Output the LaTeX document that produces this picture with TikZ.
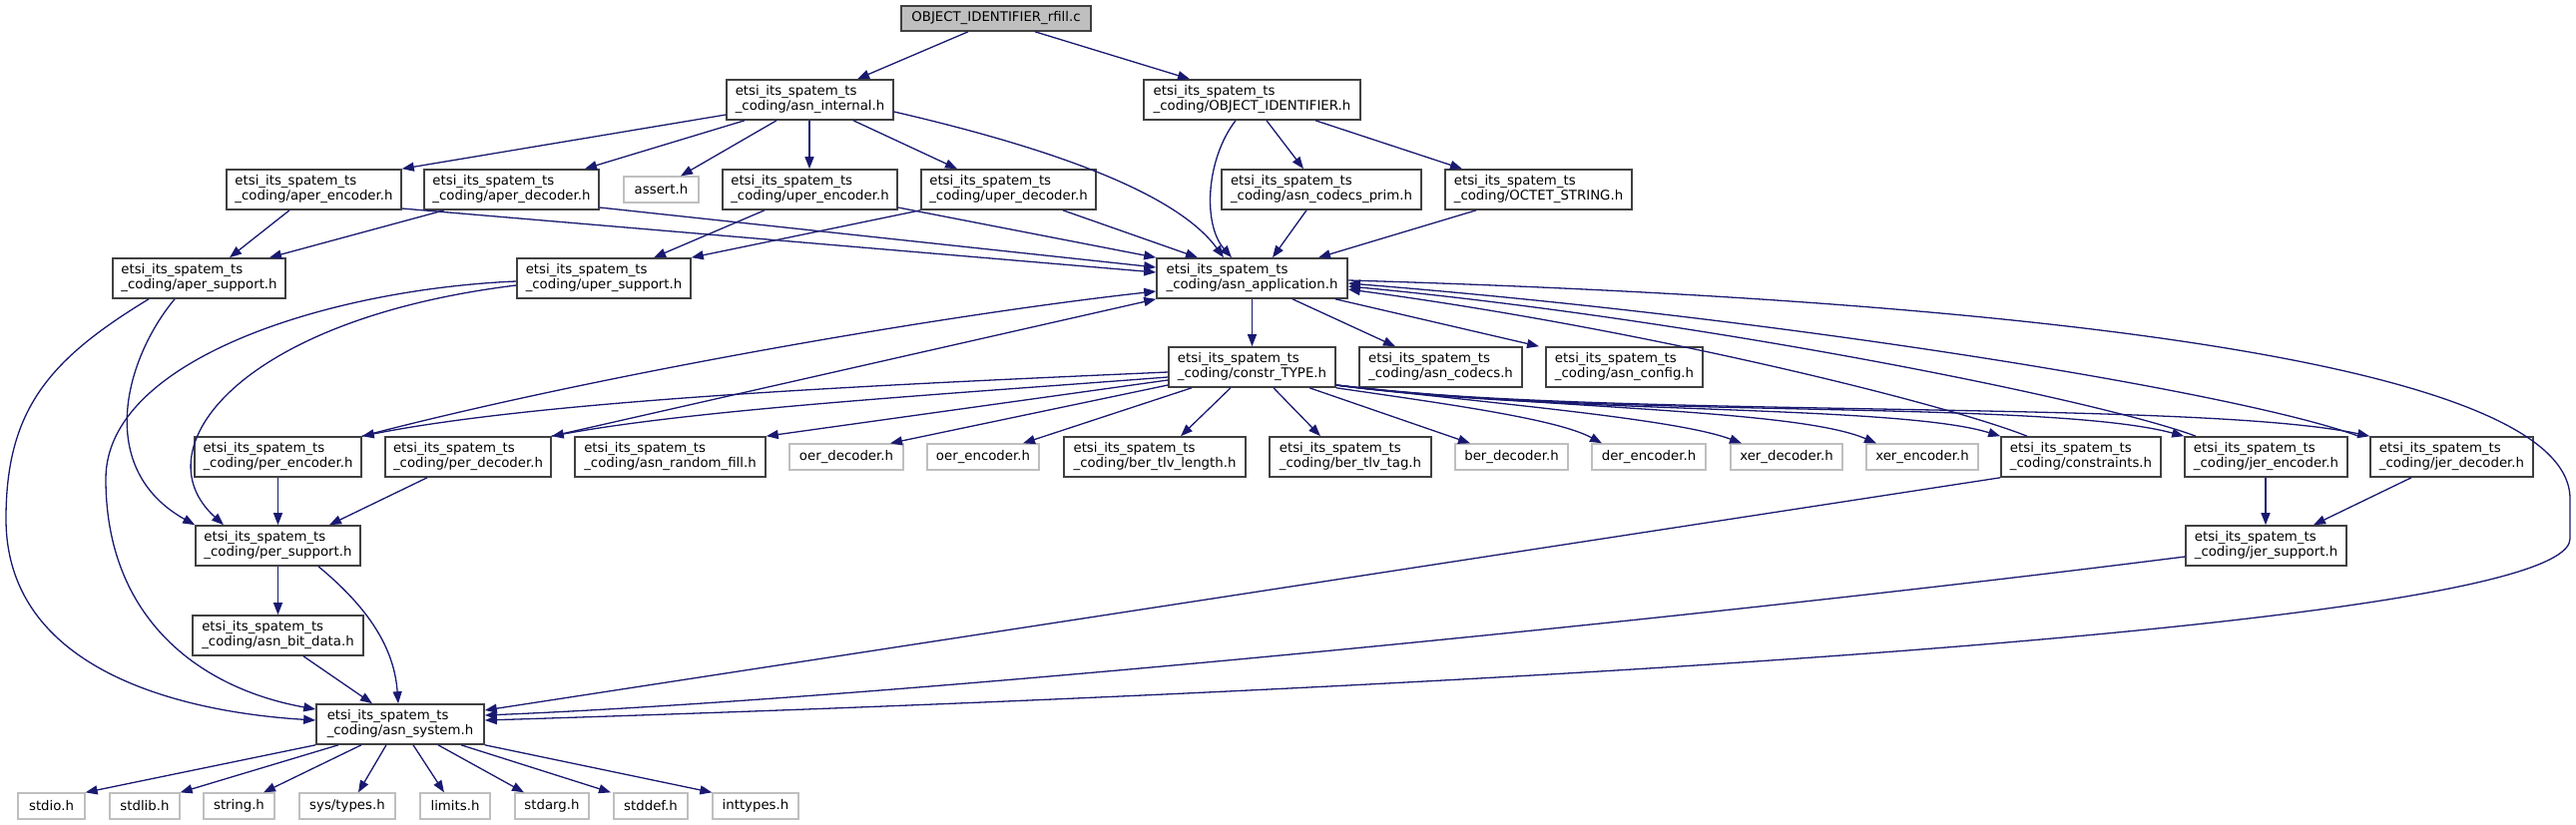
\documentclass[tikz,border=0pt]{standalone}
\usepackage{fontspec}
\setmainfont{DejaVu Sans}
\usetikzlibrary{arrows.meta}
\definecolor{edgeblue}{HTML}{191970}
\definecolor{boxline}{HTML}{404040}
\definecolor{greyline}{HTML}{BFBFBF}
\definecolor{rootfill}{HTML}{BFBFBF}
\newcommand\etsi[1]{etsi\_its\_spatem\_ts\\\_coding/#1}
\begin{document}
\begin{tikzpicture}[x=1pt,y=-1pt,
  hdr/.style={draw=boxline,fill=white,line width=1.6pt,inner sep=0pt,align=left,font=\fontsize{13.3}{15}\selectfont},
  wbox/.style={hdr,minimum width=#1,minimum height=40pt},
  gbox/.style={hdr,draw=greyline,line width=1.3pt,minimum width=#1,minimum height=26pt},
  dep/.style={draw=edgeblue,line width=1.3pt,-{Triangle[length=12pt,width=9pt]}}]
\useasboundingbox (0,0) rectangle (2581,827);
% nodes
\node[hdr,fill=rootfill,minimum width=190pt,minimum height=25pt] (root) at (998,18.5) {OBJECT\_IDENTIFIER\_rfill.c};
\node[wbox=167pt] (asninternal) at (811.5,100) {\etsi{asn\_internal.h}};
\node[wbox=217pt] (objid) at (1254.5,100) {\etsi{OBJECT\_IDENTIFIER.h}};
\node[wbox=175pt] (aperenc) at (314.5,190) {\etsi{aper\_encoder.h}};
\node[wbox=175pt] (aperdec) at (512.5,190) {\etsi{aper\_decoder.h}};
\node[gbox=75pt] (assert) at (662.5,190) {assert.h};
\node[wbox=175pt] (uperenc) at (811.5,190) {\etsi{uper\_encoder.h}};
\node[wbox=175pt] (uperdec) at (1010.5,190) {\etsi{uper\_decoder.h}};
\node[wbox=200pt] (codecsprim) at (1324,190) {\etsi{asn\_codecs\_prim.h}};
\node[wbox=187pt] (octet) at (1541.5,190) {\etsi{OCTET\_STRING.h}};
\node[wbox=173pt] (apersup) at (199.5,279) {\etsi{aper\_support.h}};
\node[wbox=174pt] (upersup) at (605,279) {\etsi{uper\_support.h}};
\node[wbox=191pt] (asnapp) at (1254.5,279) {\etsi{asn\_application.h}};
\node[wbox=167pt] (constr) at (1254.5,368) {\etsi{constr\_TYPE.h}};
\node[wbox=163pt] (codecs) at (1443.5,368) {\etsi{asn\_codecs.h}};
\node[wbox=157pt] (config) at (1627.5,368) {\etsi{asn\_config.h}};
\node[wbox=167pt] (perenc) at (278.5,458) {\etsi{per\_encoder.h}};
\node[wbox=166pt] (perdec) at (469,458) {\etsi{per\_decoder.h}};
\node[wbox=191pt] (randfill) at (671.5,458) {\etsi{asn\_random\_fill.h}};
\node[gbox=114pt] (oerdec) at (848,458) {oer\_decoder.h};
\node[gbox=112pt] (oerenc) at (985,458) {oer\_encoder.h};
\node[wbox=182pt] (tlvlen) at (1157,458) {\etsi{ber\_tlv\_length.h}};
\node[wbox=162pt] (tlvtag) at (1353,458) {\etsi{ber\_tlv\_tag.h}};
\node[gbox=113pt] (berdec) at (1514.5,458) {ber\_decoder.h};
\node[gbox=114pt] (derenc) at (1652,458) {der\_encoder.h};
\node[gbox=112pt] (xerdec) at (1790,458) {xer\_decoder.h};
\node[gbox=112pt] (xerenc) at (1926,458) {xer\_encoder.h};
\node[wbox=160pt] (constraints) at (2085,458) {\etsi{constraints.h}};
\node[wbox=163pt] (jerenc) at (2270.5,458) {\etsi{jer\_encoder.h}};
\node[wbox=163pt] (jerdec) at (2456.5,458) {\etsi{jer\_decoder.h}};
\node[wbox=165pt] (persup) at (278.5,547) {\etsi{per\_support.h}};
\node[wbox=161pt] (jersup) at (2270.5,547) {\etsi{jer\_support.h}};
\node[wbox=171pt] (bitdata) at (278.5,637) {\etsi{asn\_bit\_data.h}};
\node[wbox=168pt] (asnsys) at (401,726) {\etsi{asn\_system.h}};
\node[gbox=67pt] (stdio) at (51.5,808) {stdio.h};
\node[gbox=70pt] (stdlib) at (145,808) {stdlib.h};
\node[gbox=71pt] (string) at (239.5,808) {string.h};
\node[gbox=96pt] (systypes) at (348,808) {sys/types.h};
\node[gbox=70pt] (limits) at (456,808) {limits.h};
\node[gbox=74pt] (stdarg) at (553,808) {stdarg.h};
\node[gbox=74pt] (stddef) at (652,808) {stddef.h};
\node[gbox=86pt] (inttypes) at (757,808) {inttypes.h};
% edges
\draw[dep] (root.south -| 970,0) -- (asninternal.north -| 859,0);
\draw[dep] (root.south -| 1037,0) -- (objid.north -| 1192,0);
\draw[dep] (asninternal.west |- 0,115) -- (aperenc.north east);
\draw[dep] (asninternal.south -| 746,0) -- (aperdec.north -| 586,0);
\draw[dep] (asninternal.south -| 778,0) -- (assert.north -| 682,0);
\draw[dep] (asninternal.south -| 811,0) -- (uperenc.north -| 811,0);
\draw[dep] (asninternal.south -| 855,0) -- (uperdec.north -| 959,0);
\draw[dep] (asninternal.east |- 0,112) .. controls (1060,150) and (1180,195) .. (asnapp.north -| 1226,0);
\draw[dep] (objid.south -| 1238,0) .. controls (1208,160) and (1205,225) .. (asnapp.north -| 1234,0);
\draw[dep] (objid.south -| 1269,0) -- (codecsprim.north -| 1306,0);
\draw[dep] (objid.south -| 1318,0) -- (octet.north -| 1465,0);
\draw[dep] (aperenc.south -| 290,0) -- (apersup.north -| 230,0);
\draw[dep] (aperdec.south -| 445,0) -- (apersup.north -| 270,0);
\draw[dep] (aperenc.east |- 0,209) -- (asnapp.west |- 0,273);
\draw[dep] (aperdec.east |- 0,208) -- (asnapp.west |- 0,268);
\draw[dep] (uperenc.south -| 766,0) -- (upersup.north -| 655,0);
\draw[dep] (uperenc.east |- 0,208) -- (asnapp.north west);
\draw[dep] (uperdec.south west) -- (upersup.north east);
\draw[dep] (uperdec.south -| 1065,0) -- (asnapp.north -| 1200,0);
\draw[dep] (codecsprim.south -| 1309,0) -- (asnapp.north -| 1275,0);
\draw[dep] (octet.south -| 1479,0) -- (asnapp.north -| 1321,0);
\draw[dep] (apersup.south -| 149,0) .. controls (50,360) and (6,410) .. (6,520) .. controls (6,680) and (200,715) .. (asnsys.west |- 0,722);
\draw[dep] (apersup.south -| 175,0) .. controls (125,360) and (95,470) .. (persup.north west);
\draw[dep] (upersup.west |- 0,282) .. controls (330,290) and (106,360) .. (106,480) .. controls (106,620) and (200,690) .. (asnsys.west |- 0,711);
\draw[dep] (upersup.west |- 0,286) .. controls (240,320) and (140,450) .. (persup.north -| 224,0);
\draw[dep] (perenc.south) -- (persup.north);
\draw[dep] (perdec.south -| 428,0) -- (persup.north -| 330,0);
\draw[dep] (perenc.north east) .. controls (600,375) and (950,315) .. (asnapp.west |- 0,292);
\draw[dep] (perdec.north east) -- (asnapp.south west);
\draw[dep] (constr.west |- 0,373) .. controls (900,385) and (550,400) .. (perenc.north east);
\draw[dep] (constr.west |- 0,378) .. controls (950,395) and (700,410) .. (perdec.north east);
\draw[dep] (constr.west |- 0,381) -- (randfill.north east);
\draw[dep] (constr.west |- 0,386) -- (oerdec.north -| 892,0);
\draw[dep] (constr.south -| 1194,0) -- (oerenc.north -| 1025,0);
\draw[dep] (constr.south -| 1233,0) -- (tlvlen.north -| 1183,0);
\draw[dep] (constr.south -| 1276,0) -- (tlvtag.north -| 1323,0);
\draw[dep] (constr.south -| 1312,0) -- (berdec.north -| 1473,0);
\draw[dep] (constr.south east) .. controls (1450,405) and (1560,420) .. (derenc.north -| 1605,0);
\draw[dep] (constr.east |- 0,386) .. controls (1500,405) and (1680,420) .. (xerdec.north -| 1745,0);
\draw[dep] (constr.east |- 0,386) .. controls (1550,410) and (1800,410) .. (xerenc.north -| 1880,0);
\draw[dep] (constr.east |- 0,386) .. controls (1550,415) and (1900,405) .. (constraints.north west);
\draw[dep] (constr.east |- 0,386) .. controls (1600,420) and (2050,400) .. (jerenc.north west);
\draw[dep] (constr.east |- 0,386) .. controls (1600,420) and (2200,400) .. (jerdec.north west);
\draw[dep] (asnapp.south) -- (constr.north);
\draw[dep] (asnapp.south -| 1295,0) -- (codecs.north -| 1398,0);
\draw[dep] (asnapp.south -| 1338,0) -- (config.north -| 1542,0);
\draw[dep] (constraints.north -| 2031,0) .. controls (1950,405) and (1650,330) .. (asnapp.east |- 0,290);
\draw[dep] (jerenc.north -| 2200,0) .. controls (2100,400) and (1700,320) .. (asnapp.east |- 0,287);
\draw[dep] (jerdec.north -| 2363,0) .. controls (2250,395) and (1800,320) .. (asnapp.east |- 0,284);
\draw[dep] (asnapp.east |- 0,281) .. controls (2000,300) and (2575,360) .. (2575,500) -- (2575,540) .. controls (2575,640) and (1200,700) .. (asnsys.east |- 0,722);
\draw[dep] (constraints.south west) -- (asnsys.east |- 0,712);
\draw[dep] (jersup.west |- 0,558) .. controls (1700,620) and (900,700) .. (asnsys.east |- 0,717);
\draw[dep] (jerenc.south -| 2270,0) -- (jersup.north -| 2270,0);
\draw[dep] (jerdec.south -| 2416,0) -- (jersup.north -| 2318,0);
\draw[dep] (persup.south) -- (bitdata.north);
\draw[dep] (persup.south -| 319,0) .. controls (370,610) and (395,650) .. (asnsys.north -| 399,0);
\draw[dep] (bitdata.south -| 304,0) -- (asnsys.north -| 373,0);
\draw[dep] (asnsys.south west) -- (stdio.north east);
\draw[dep] (asnsys.south -| 339,0) -- (stdlib.north east);
\draw[dep] (asnsys.south -| 362,0) -- (string.north -| 264,0);
\draw[dep] (asnsys.south -| 387,0) -- (systypes.north -| 359,0);
\draw[dep] (asnsys.south -| 414,0) -- (limits.north -| 445,0);
\draw[dep] (asnsys.south -| 439,0) -- (stdarg.north -| 525,0);
\draw[dep] (asnsys.south -| 462,0) -- (stddef.north -| 612,0);
\draw[dep] (asnsys.south east) -- (inttypes.north west);
\end{tikzpicture}
\end{document}
